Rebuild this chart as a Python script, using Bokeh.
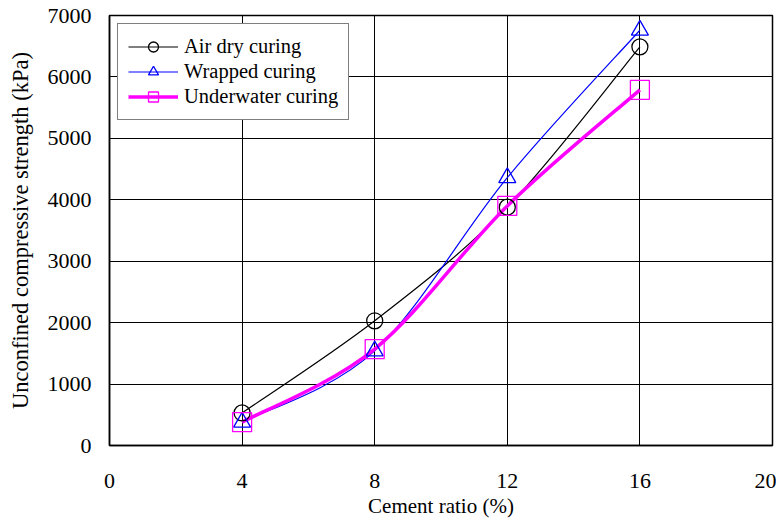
import numpy as np
from bokeh.plotting import figure
from bokeh.models import Range1d, FixedTicker, Legend, LegendItem, ColumnDataSource
from bokeh.embed import file_html
from bokeh.resources import INLINE

cement = [4, 8, 12, 16]
air_dry = [530, 2030, 3880, 6490]
wrapped = [380, 1540, 4360, 6760]
underwater = [380, 1570, 3900, 5790]
x_ticks = [0, 4, 8, 12, 16, 20]
y_ticks = [0, 1000, 2000, 3000, 4000, 5000, 6000, 7000]

FONT = "Liberation Serif"

p = figure(output_backend="svg", toolbar_location=None,
           frame_width=663, frame_height=430,
           min_border_left=109, min_border_right=4,
           min_border_top=15, min_border_bottom=67,
           x_range=Range1d(0, 20), y_range=Range1d(0, 7000))
p.width = 776
p.height = 512

p.outline_line_color = "black"
p.outline_line_width = 1.5

for ax in (p.xaxis[0], p.yaxis[0]):
    ax.axis_line_color = "black"
    ax.axis_line_width = 1.5
    ax.major_tick_in = 0
    ax.major_tick_out = 0
    ax.minor_tick_in = 0
    ax.minor_tick_out = 0
    ax.major_label_text_font = FONT
    ax.major_label_text_font_size = "22px"
    ax.major_label_text_color = "black"
    ax.axis_label_text_font = FONT
    ax.axis_label_text_font_style = "normal"
    ax.axis_label_text_color = "black"

p.xaxis.axis_label_text_font_size = "21px"
p.yaxis.axis_label_text_font_size = "22.5px"
p.xaxis.ticker = FixedTicker(ticks=x_ticks)
p.yaxis.ticker = FixedTicker(ticks=y_ticks)
p.xaxis.major_label_standoff = 28
p.yaxis.major_label_standoff = 18
p.xaxis.axis_label = "Cement ratio (%)"
p.yaxis.axis_label = "Unconfined compressive strength (kPa)"
p.xaxis.axis_label_standoff = 3
p.yaxis.axis_label_standoff = 12

p.xgrid.grid_line_color = "black"
p.ygrid.grid_line_color = "black"
p.xgrid.grid_line_width = 1
p.ygrid.grid_line_width = 1


def smooth_segments(xs, ys):
    xs = np.asarray(xs, dtype=float)
    ys = np.asarray(ys, dtype=float)
    n = len(xs)
    px = np.concatenate([[xs[0]], xs, [xs[-1]]])
    py = np.concatenate([[ys[0]], ys, [ys[-1]]])
    seg = dict(x0=[], y0=[], x1=[], y1=[], cx0=[], cy0=[], cx1=[], cy1=[])
    for i in range(n - 1):
        j = i + 1
        seg["x0"].append(px[j]); seg["y0"].append(py[j])
        seg["x1"].append(px[j + 1]); seg["y1"].append(py[j + 1])
        seg["cx0"].append(px[j] + (px[j + 1] - px[j - 1]) / 6.0)
        seg["cy0"].append(py[j] + (py[j + 1] - py[j - 1]) / 6.0)
        seg["cx1"].append(px[j + 1] - (px[j + 2] - px[j]) / 6.0)
        seg["cy1"].append(py[j + 1] - (py[j + 2] - py[j]) / 6.0)
    return ColumnDataSource(seg)


series = [
    ("Air dry curing", air_dry, "black", 1.2, "circle", 16),
    ("Wrapped curing", wrapped, "#0000FF", 1.2, "triangle", 17),
    ("Underwater curing", underwater, "#FF00FF", 3.5, "square", 19),
]

line_legend = []
for name, vals, color, lw, marker, size in series:
    src = smooth_segments(cement, vals)
    p.bezier(x0="x0", y0="y0", x1="x1", y1="y1", cx0="cx0", cy0="cy0",
             cx1="cx1", cy1="cy1", source=src, line_color=color, line_width=lw)
    # legend-only line sample (no drawable points on the plot)
    dummy = p.line(x=[float("nan")], y=[float("nan")], line_color=color, line_width=lw)
    line_legend.append(dummy)

items = []
for (name, vals, color, lw, marker, size), dummy in zip(series, line_legend):
    sc = p.scatter(x=cement, y=vals, marker=marker, size=size,
                   line_color=color, line_width=1.3, fill_color=None)
    items.append(LegendItem(label=name, renderers=[dummy, sc]))

legend = Legend(items=items, location="top_left")
legend.label_text_font = FONT
legend.label_text_font_size = "20.5px"
legend.label_text_color = "black"
legend.border_line_color = "black"
legend.border_line_width = 1
legend.background_fill_color = "white"
legend.background_fill_alpha = 1
legend.padding = 10
legend.spacing = 0
legend.margin = 8
legend.label_height = 25
legend.glyph_height = 25
legend.glyph_width = 50
legend.label_standoff = 6
p.add_layout(legend, "center")

open("out.html", "w").write(file_html(p, INLINE))
